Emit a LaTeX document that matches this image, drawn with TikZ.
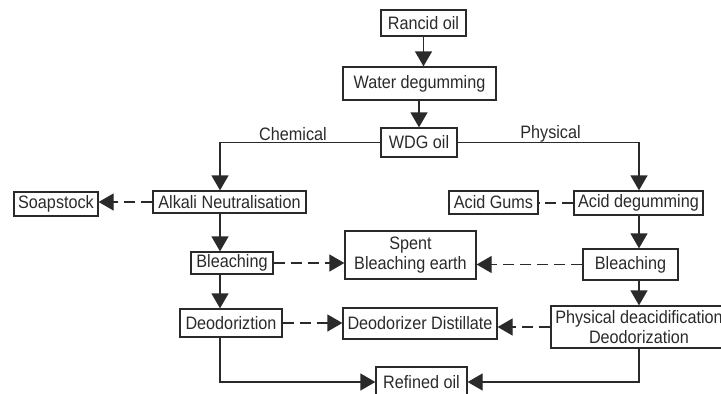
\documentclass[tikz,border=0pt]{standalone}
\usepackage{fontspec}
\setmainfont[FakeStretch=0.9]{Liberation Sans}
\usetikzlibrary{arrows.meta}
\definecolor{ink}{HTML}{2A2A2A}
\tikzset{
  box/.style={draw=ink, line width=1.3pt, text=ink, inner sep=0pt, align=center,
    font=\fontsize{18}{20}\selectfont},
  flow/.style={draw=ink, line width=1.3pt, -{Triangle[length=15pt,width=17pt]}},
  side/.style={flow, dash pattern=on 11pt off 6pt},
  sideline/.style={draw=ink, line width=1.3pt, dash pattern=on 11pt off 6pt},
  lbl/.style={text=ink, font=\fontsize{18}{20}\selectfont, inner sep=0pt},
}
\begin{document}
\begin{tikzpicture}[x=1pt,y=-1pt]
\useasboundingbox (0,0) rectangle (721,394);
\coordinate (lx) at (220,0);
\coordinate (rx) at (639,0);
\node[box, minimum width=85pt, minimum height=26pt] (rancid) at (423.5,23) {Rancid oil};
\node[box, minimum width=153pt, minimum height=33pt] (water) at (419.5,83.5) {Water degumming};
\node[box, minimum width=76pt, minimum height=29pt] (wdg) at (419,142.5) {WDG oil};
\node[box, minimum width=153pt, minimum height=22pt] (alkali) at (229.5,202) {Alkali Neutralisation};
\node[box, minimum width=84pt, minimum height=24pt] (soap) at (56,204) {Soapstock};
\node[box, minimum width=89pt, minimum height=23pt] (gums) at (493.5,202.5) {Acid Gums};
\node[box, minimum width=129pt, minimum height=24pt] (aciddeg) at (638.5,203) {Acid degumming};
\node[box, minimum width=82pt, minimum height=22pt] (bleachL) at (232,263) {Bleaching};
\node[box, minimum width=131pt, minimum height=48pt] (spent) at (410.5,255) {Spent\\Bleaching earth};
\node[box, minimum width=95pt, minimum height=31pt] (bleachR) at (630.5,264.5) {Bleaching};
\node[box, minimum width=102pt, minimum height=28pt] (deodL) at (231,323) {Deodoriztion};
\node[box, minimum width=154pt, minimum height=31pt] (distill) at (420,323.5) {Deodorizer Distillate};
\node[box, minimum width=176pt, minimum height=42pt] (phys) at (639,327) {Physical deacidification\\Deodorization};
\node[box, minimum width=91pt, minimum height=30pt] (refined) at (421.5,382) {Refined oil};
\node[lbl] (chem) at (293,134) {Chemical};
\node[lbl] (physl) at (550.5,134) {Physical};
% main flow
\draw[flow] (rancid.south) -- (rancid.south |- water.north);
\draw[flow] (wdg.north |- water.south) -- (wdg.north);
\draw[flow] (wdg.west) -| (lx |- alkali.north);
\draw[flow] (wdg.east) -| (rx |- aciddeg.north);
\draw[flow] (lx |- alkali.south) -- (lx |- bleachL.north);
\draw[flow] (lx |- bleachL.south) -- (lx |- deodL.north);
\draw[flow] (rx |- aciddeg.south) -- (rx |- bleachR.north);
\draw[flow] (rx |- bleachR.south) -- (rx |- phys.north);
\draw[flow] (lx |- deodL.south) -- (lx |- refined.west) -- (refined.west);
\draw[flow] (rx |- phys.south) -- (rx |- refined.east) -- (refined.east);
% side streams
\draw[side] (alkali.west) -- (alkali.west -| soap.east);
\draw[sideline] (aciddeg.west) -- (aciddeg.west -| gums.east);
\draw[side] (bleachL.east) -- (bleachL.east -| spent.west);
\draw[side] (bleachR.west) -- (bleachR.west -| spent.east);
\draw[side] (deodL.east) -- (deodL.east -| distill.west);
\draw[side] (phys.west) -- (phys.west -| distill.east);
\end{tikzpicture}
\end{document}
